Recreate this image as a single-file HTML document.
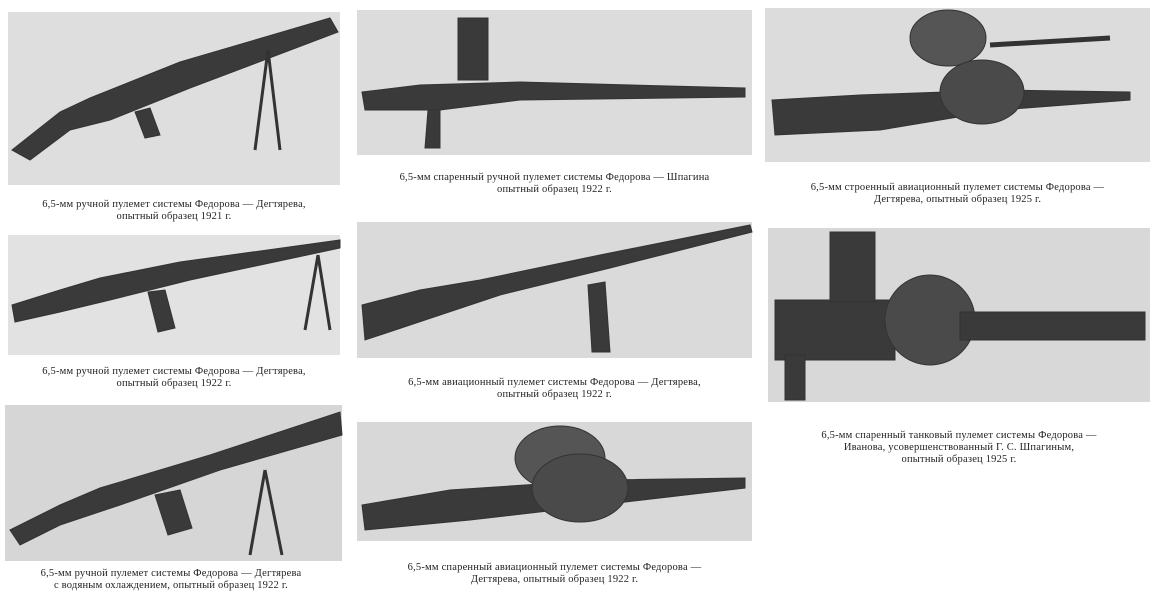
<!DOCTYPE html>
<html><head><meta charset="utf-8"><style>
body{margin:0;width:1158px;height:588px;background:#fff;position:relative;overflow:hidden;font-family:"Liberation Serif",serif;}
.ph{position:absolute;background:#d9d9d9;}
.cap{position:absolute;font-size:10.5px;line-height:12px;text-align:center;color:#222;letter-spacing:0.2px}
svg{position:absolute;left:0;top:0}
</style></head><body>
<div class="ph" style="left:8px;top:12px;width:332px;height:173px;background:#dedede"></div>
<div class="ph" style="left:8px;top:235px;width:332px;height:120px;background:#e2e2e2"></div>
<div class="ph" style="left:5px;top:405px;width:337px;height:156px;background:#d6d6d6"></div>
<div class="ph" style="left:357px;top:10px;width:395px;height:145px;background:#dcdcdc"></div>
<div class="ph" style="left:357px;top:222px;width:395px;height:136px;background:#dadada"></div>
<div class="ph" style="left:357px;top:422px;width:395px;height:119px;background:#d8d8d8"></div>
<div class="ph" style="left:765px;top:8px;width:385px;height:154px;background:#dcdcdc"></div>
<div class="ph" style="left:768px;top:228px;width:382px;height:174px;background:#d8d8d8"></div>
<svg width="1158" height="588" fill="#3a3a3a" stroke="#333">
<!-- 1 -->
<polygon points="12,150 60,112 90,98 180,62 330,18 338,32 190,88 110,120 70,130 30,160" />
<polygon points="135,112 150,108 160,135 145,138"/>
<line x1="268" y1="50" x2="255" y2="150" stroke-width="3"/><line x1="268" y1="50" x2="280" y2="150" stroke-width="3"/>
<!-- 2 -->
<polygon points="12,305 60,290 100,278 180,262 340,240 340,248 190,280 110,300 60,312 15,322"/>
<polygon points="148,292 165,290 175,328 158,332"/>
<line x1="318" y1="255" x2="305" y2="330" stroke-width="3"/><line x1="318" y1="255" x2="330" y2="330" stroke-width="3"/>
<!-- 3 -->
<polygon points="10,530 60,505 100,488 210,455 340,412 342,435 220,470 120,505 60,525 20,545"/>
<polygon points="155,495 180,490 192,528 168,535"/>
<line x1="265" y1="470" x2="250" y2="555" stroke-width="3"/><line x1="265" y1="470" x2="282" y2="555" stroke-width="3"/>
<!-- 4 -->
<polygon points="362,92 420,85 520,82 745,88 745,97 520,100 440,110 365,110"/>
<rect x="458" y="18" width="30" height="62"/>
<polygon points="428,110 440,110 440,148 425,148"/>
<!-- 5 -->
<polygon points="362,305 420,290 480,280 600,255 750,225 752,232 610,268 500,295 440,315 365,340"/>
<polygon points="588,285 605,282 610,352 592,352"/>
<!-- 6 -->
<polygon points="362,505 450,490 600,480 745,478 745,488 600,505 470,520 365,530"/>
<ellipse cx="560" cy="458" rx="45" ry="32" fill="#555"/>
<ellipse cx="580" cy="488" rx="48" ry="34" fill="#4a4a4a"/>
<!-- 7 -->
<polygon points="772,100 860,95 1000,90 1130,92 1130,100 1000,110 880,130 775,135"/>
<ellipse cx="948" cy="38" rx="38" ry="28" fill="#555"/>
<ellipse cx="982" cy="92" rx="42" ry="32" fill="#4a4a4a"/>
<line x1="990" y1="45" x2="1110" y2="38" stroke-width="5"/>
<!-- 8 -->
<rect x="775" y="300" width="120" height="60"/>
<rect x="830" y="232" width="45" height="70"/>
<circle cx="930" cy="320" r="45" fill="#4a4a4a"/>
<rect x="960" y="312" width="185" height="28"/>
<rect x="785" y="355" width="20" height="45"/>
</svg>
<div class="cap" style="left:8px;top:199px;width:332px">6,5-мм ручной пулемет системы Федорова — Дегтярева,<br>опытный образец 1921 г.</div>
<div class="cap" style="left:8px;top:366px;width:332px">6,5-мм ручной пулемет системы Федорова — Дегтярева,<br>опытный образец 1922 г.</div>
<div class="cap" style="left:0px;top:568px;width:342px">6,5-мм ручной пулемет системы Федорова — Дегтярева<br>с водяным охлаждением, опытный образец 1922 г.</div>
<div class="cap" style="left:352px;top:172px;width:405px">6,5-мм спаренный ручной пулемет системы Федорова — Шпагина<br>опытный образец 1922 г.</div>
<div class="cap" style="left:357px;top:377px;width:395px">6,5-мм авиационный пулемет системы Федорова — Дегтярева,<br>опытный образец 1922 г.</div>
<div class="cap" style="left:352px;top:562px;width:405px">6,5-мм спаренный авиационный пулемет системы Федорова —<br>Дегтярева, опытный образец 1922 г.</div>
<div class="cap" style="left:765px;top:182px;width:385px">6,5-мм строенный авиационный пулемет системы Федорова —<br>Дегтярева, опытный образец 1925 г.</div>
<div class="cap" style="left:768px;top:430px;width:382px">6,5-мм спаренный танковый пулемет системы Федорова —<br>Иванова, усовершенствованный Г. С. Шпагиным,<br>опытный образец 1925 г.</div>
</body></html>
